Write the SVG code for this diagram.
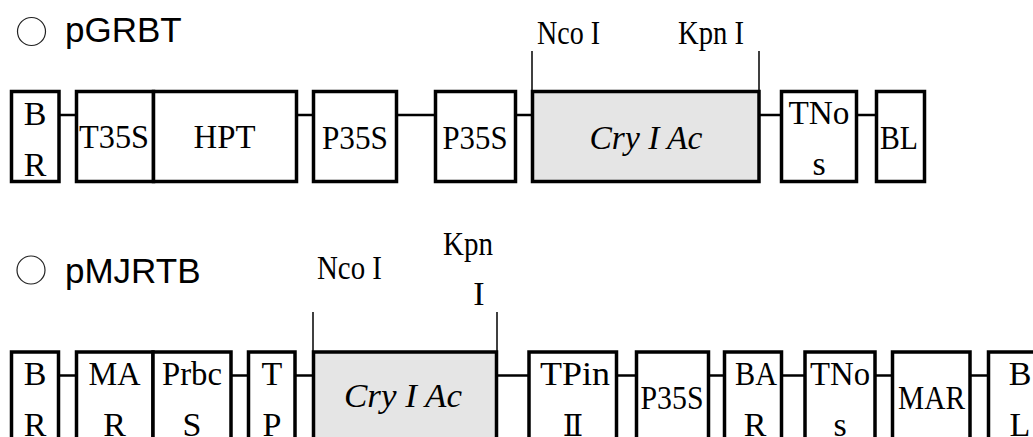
<svg xmlns="http://www.w3.org/2000/svg" width="1033" height="437" viewBox="0 0 1033 437">
<style>
.box{fill:#fff;stroke:#000;stroke-width:3.5}
.gene{fill:#e5e5e5;stroke:#000;stroke-width:3.5}
.lbl{font-family:"Liberation Serif","Times New Roman",serif;font-size:34px;fill:#000;text-anchor:middle}
.it{font-style:italic}
.title{font-family:"Liberation Sans",Arial,sans-serif;font-size:35px;fill:#000}
.mark{fill:none;stroke:#222;stroke-width:1.2}
.conn line{stroke:#000;stroke-width:2.5}
.tick{stroke:#000;stroke-width:1.5}
</style>
<rect width="1033" height="437" fill="#fff"/>

<!-- Titles -->
<g id="title1"><circle class="mark" cx="31.5" cy="31.5" r="14"/><text class="title" x="65" y="42">pGRBT</text></g>
<g id="title2"><circle class="mark" cx="31" cy="270" r="14"/><text class="title" x="65" y="283">pMJRTB</text></g>

<!-- Connectors -->
<g id="connectors" class="conn">
<line x1="59" y1="115" x2="76" y2="115"/>
<line x1="296" y1="115" x2="313" y2="115"/>
<line x1="397" y1="115" x2="435" y2="115"/>
<line x1="516" y1="115" x2="533" y2="115"/>
<line x1="759" y1="115" x2="782" y2="115"/>
<line x1="857" y1="115" x2="876" y2="115"/>

<line x1="59" y1="375.5" x2="76" y2="375.5"/>
<line x1="231" y1="375.5" x2="248" y2="375.5"/>
<line x1="295" y1="375.5" x2="313" y2="375.5"/>
<line x1="497" y1="375.5" x2="529" y2="375.5"/>
<line x1="617" y1="375.5" x2="636" y2="375.5"/>
<line x1="709" y1="375.5" x2="724" y2="375.5"/>
<line x1="782" y1="375.5" x2="805" y2="375.5"/>
<line x1="875" y1="375.5" x2="892" y2="375.5"/>
<line x1="970" y1="375.5" x2="988" y2="375.5"/>
</g>

<!-- Row 1: pGRBT -->
<g id="r1-BR"><rect class="box" x="11.5" y="91.5" width="47.5" height="90"/><text class="lbl" x="35" y="125">B</text><text class="lbl" x="35" y="176">R</text></g>
<g id="r1-T35S"><rect class="box" x="76.5" y="91.5" width="77" height="90"/><text class="lbl" x="114" y="148" textLength="70" lengthAdjust="spacingAndGlyphs">T35S</text></g>
<g id="r1-HPT"><rect class="box" x="153.5" y="91.5" width="143" height="90"/><text class="lbl" x="224.5" y="148" textLength="62" lengthAdjust="spacingAndGlyphs">HPT</text></g>
<g id="r1-P35S-a"><rect class="box" x="313.5" y="91.5" width="83" height="90"/><text class="lbl" x="355" y="149" textLength="66" lengthAdjust="spacingAndGlyphs">P35S</text></g>
<g id="r1-P35S-b"><rect class="box" x="435.5" y="91.5" width="80" height="90"/><text class="lbl" x="475" y="149" textLength="65" lengthAdjust="spacingAndGlyphs">P35S</text></g>
<g id="r1-CryIAc"><rect class="gene" x="532.5" y="91.5" width="226.5" height="90"/><text class="lbl it" x="646" y="149" textLength="113" lengthAdjust="spacingAndGlyphs">Cry I Ac</text>
<line class="tick" x1="532" y1="51" x2="532" y2="91"/><line class="tick" x1="759" y1="51" x2="759" y2="91"/>
<text class="lbl" x="568.5" y="44" textLength="63" lengthAdjust="spacingAndGlyphs">Nco I</text>
<text class="lbl" x="711" y="44" textLength="66" lengthAdjust="spacingAndGlyphs">Kpn I</text></g>
<g id="r1-TNos"><rect class="box" x="781.5" y="91.5" width="75" height="90"/><text class="lbl" x="819" y="124" textLength="61" lengthAdjust="spacingAndGlyphs">TNo</text><text class="lbl" x="819" y="175">s</text></g>
<g id="r1-BL"><rect class="box" x="876.5" y="91.5" width="48" height="90"/><text class="lbl" x="899" y="149" textLength="38" lengthAdjust="spacingAndGlyphs">BL</text></g>

<!-- Row 2: pMJRTB -->
<g id="r2-BR"><rect class="box" x="11.5" y="352" width="47" height="100"/><text class="lbl" x="35" y="385">B</text><text class="lbl" x="35" y="436">R</text></g>
<g id="r2-MAR"><rect class="box" x="76.5" y="352" width="76.5" height="100"/><text class="lbl" x="114.5" y="385" textLength="52" lengthAdjust="spacingAndGlyphs">MA</text><text class="lbl" x="114.5" y="436">R</text></g>
<g id="r2-PrbcS"><rect class="box" x="153" y="352" width="78" height="100"/><text class="lbl" x="192" y="385" textLength="60" lengthAdjust="spacingAndGlyphs">Prbc</text><text class="lbl" x="192" y="436">S</text></g>
<g id="r2-TP"><rect class="box" x="248.5" y="352" width="46.5" height="100"/><text class="lbl" x="272" y="385">T</text><text class="lbl" x="272" y="436">P</text></g>
<g id="r2-CryIAc"><rect class="gene" x="313.5" y="352" width="183" height="100"/><text class="lbl it" x="403" y="407" textLength="118" lengthAdjust="spacingAndGlyphs">Cry I Ac</text>
<line class="tick" x1="313" y1="312" x2="313" y2="352"/><line class="tick" x1="497" y1="312" x2="497" y2="352"/>
<text class="lbl" x="349.5" y="279" textLength="65" lengthAdjust="spacingAndGlyphs">Nco I</text>
<text class="lbl" x="468" y="255" textLength="50" lengthAdjust="spacingAndGlyphs">Kpn</text>
<text class="lbl" x="479" y="305">I</text></g>
<g id="r2-TPinII"><rect class="box" x="529" y="352" width="87.5" height="100"/><text class="lbl" x="575" y="385" textLength="70" lengthAdjust="spacingAndGlyphs">TPin</text><text class="lbl" x="573" y="436" style="font-family:'DejaVu Serif','Noto Sans CJK KR',serif;font-size:30px">Ⅱ</text></g>
<g id="r2-P35S"><rect class="box" x="636.5" y="352" width="72" height="100"/><text class="lbl" x="672" y="409" textLength="63" lengthAdjust="spacingAndGlyphs">P35S</text></g>
<g id="r2-BAR"><rect class="box" x="724.5" y="352" width="57" height="100"/><text class="lbl" x="756" y="385" textLength="42" lengthAdjust="spacingAndGlyphs">BA</text><text class="lbl" x="755" y="436">R</text></g>
<g id="r2-TNos"><rect class="box" x="805" y="352" width="70" height="100"/><text class="lbl" x="840" y="385" textLength="60" lengthAdjust="spacingAndGlyphs">TNo</text><text class="lbl" x="840" y="436">s</text></g>
<g id="r2-MAR2"><rect class="box" x="892.5" y="352" width="77.5" height="100"/><text class="lbl" x="931.5" y="409" textLength="67" lengthAdjust="spacingAndGlyphs">MAR</text></g>
<g id="r2-BL"><rect class="box" x="988.5" y="352" width="60" height="100"/><text class="lbl" x="1020" y="385">B</text><text class="lbl" x="1020" y="436">L</text></g>
</svg>
